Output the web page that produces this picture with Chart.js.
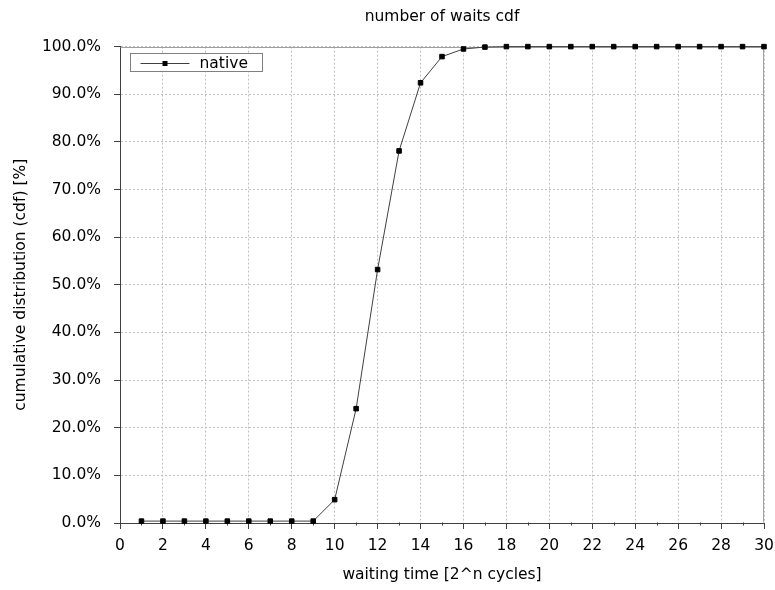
<!DOCTYPE html>
<html>
<head>
<meta charset="utf-8">
<script src="https://cdn.jsdelivr.net/npm/chart.js@4/dist/chart.umd.min.js"></script>
<style>
    html, body { margin: 0; padding: 0; background: #fff; }
    #wrap { width: 775px; height: 590px; }
</style>
</head>
<body>
<div id="wrap"><canvas id="cdfChart" width="775" height="590"></canvas></div>
<script>
// waiting time exponent n (2^n cycles)
const waitExp = [1, 2, 3, 4, 5, 6, 7, 8, 9, 10, 11, 12, 13, 14, 15,
    16, 17, 18, 19, 20, 21, 22, 23, 24, 25, 26, 27, 28, 29, 30];
// cumulative distribution in percent
const cdfNative = [0.4, 0.4, 0.4, 0.4, 0.4, 0.4, 0.4, 0.4, 0.4, 4.9,
    24.0, 53.2, 78.1, 92.4, 97.9, 99.5, 99.9, 100, 100, 100,
    100, 100, 100, 100, 100, 100, 100, 100, 100, 100];
const seriesLabel = 'native';
const xMinorTicks = [1, 3, 5, 7, 9, 11, 13, 15, 17, 19, 21, 23, 25, 27, 29];

const FONT = "'DejaVu Sans', Verdana, sans-serif";
const AXIS_COLOR = '#404040';
const FRAME_COLOR = '#a0a0a0';

// top/right frame lines + short minor ticks on the x axis (gnuplot style)
const framePlugin = {
    id: 'frame',
    beforeDatasetsDraw(chart) {
        const { ctx, chartArea: a } = chart;
        const L = Math.round(a.left) + 0.5, R = Math.round(a.right) - 0.5;
        const T = Math.round(a.top) + 0.5, B = Math.round(a.bottom) - 0.5;
        ctx.save();
        ctx.strokeStyle = FRAME_COLOR;
        ctx.lineWidth = 1;
        ctx.beginPath();
        ctx.moveTo(L, T);
        ctx.lineTo(R, T);
        ctx.lineTo(R, B);
        ctx.stroke();

        const xs = chart.scales.x;
        ctx.strokeStyle = AXIS_COLOR;
        ctx.beginPath();
        xMinorTicks.forEach(v => {
            const px = Math.round(xs.getPixelForValue(v)) + 0.5;
            ctx.moveTo(px, B);
            ctx.lineTo(px, B + 3);
        });
        ctx.stroke();
        ctx.restore();
    }
};

// legend box inside the plot, top left
const insideLegend = {
    id: 'insideLegend',
    afterDatasetsDraw(chart) {
        const { ctx, chartArea: a } = chart;
        const ds = chart.data.datasets[0];
        const x0 = Math.round(a.left) + 10.5, y0 = Math.round(a.top) + 6.5;
        const w = 132, h = 18;
        ctx.save();
        ctx.fillStyle = '#fff';
        ctx.fillRect(x0, y0, w, h);
        ctx.strokeStyle = '#808080';
        ctx.lineWidth = 1;
        ctx.strokeRect(x0, y0, w, h);
        const cy = Math.round(y0 + h / 2) + 0.5;
        ctx.strokeStyle = ds.borderColor;
        ctx.beginPath();
        ctx.moveTo(x0 + 10, cy);
        ctx.lineTo(x0 + 59, cy);
        ctx.stroke();
        ctx.fillStyle = ds.pointBackgroundColor;
        ctx.fillRect(x0 + 32, cy - 2.5, 5, 5);
        ctx.fillStyle = '#000';
        ctx.font = '15.5px ' + FONT;
        ctx.textBaseline = 'middle';
        ctx.fillText(ds.label, x0 + 69, cy);
        ctx.restore();
    }
};

new Chart(document.getElementById('cdfChart'), {
    type: 'line',
    data: {
        datasets: [{
            label: seriesLabel,
            data: waitExp.map((n, i) => ({ x: n, y: cdfNative[i] })),
            borderColor: '#404040',
            borderWidth: 1,
            pointStyle: 'rect',
            pointRadius: 3.2,
            pointBorderWidth: 1,
            pointBackgroundColor: '#000',
            pointBorderColor: '#000',
            tension: 0,
            clip: false
        }]
    },
    options: {
        responsive: false,
        animation: false,
        devicePixelRatio: 1,
        layout: { padding: { left: 0, right: 11, top: 0, bottom: 0 } },
        plugins: {
            legend: { display: false },
            tooltip: { enabled: false },
            title: {
                display: true,
                text: 'number of waits cdf',
                fullSize: false,
                color: '#000',
                font: { family: FONT, size: 15.5, weight: 'normal' },
                padding: { top: 8, bottom: 20 }
            }
        },
        scales: {
            x: {
                type: 'linear',
                min: 0,
                max: 30,
                afterFit: (s) => { s.height = 67; s.paddingRight = 11; s.paddingLeft = 0; },
                ticks: {
                    stepSize: 2,
                    color: '#000',
                    padding: 8,
                    maxRotation: 0,
                    font: { family: FONT, size: 15.5 }
                },
                grid: {
                    color: '#c0c0c0',
                    tickColor: AXIS_COLOR,
                    tickLength: 6,
                    lineWidth: 1
                },
                border: { color: AXIS_COLOR, width: 1, dash: [2, 2] },
                title: {
                    display: true,
                    text: 'waiting time [2^n cycles]',
                    color: '#000',
                    font: { family: FONT, size: 15.5 },
                    padding: { top: 0, bottom: 6 }
                }
            },
            y: {
                min: 0,
                max: 100,
                afterFit: (s) => { s.width = 120; },
                ticks: {
                    stepSize: 10,
                    color: '#000',
                    padding: 13,
                    font: { family: FONT, size: 15.5 },
                    callback: (v) => v.toFixed(1) + '%'
                },
                grid: {
                    color: '#c0c0c0',
                    tickColor: AXIS_COLOR,
                    tickLength: 6,
                    lineWidth: 1
                },
                border: { color: AXIS_COLOR, width: 1, dash: [2, 2] },
                title: {
                    display: true,
                    text: 'cumulative distribution (cdf) [%]',
                    color: '#000',
                    font: { family: FONT, size: 15.5 },
                    padding: { top: 12, bottom: 0 }
                }
            }
        }
    },
    plugins: [framePlugin, insideLegend]
});
</script>
</body>
</html>
